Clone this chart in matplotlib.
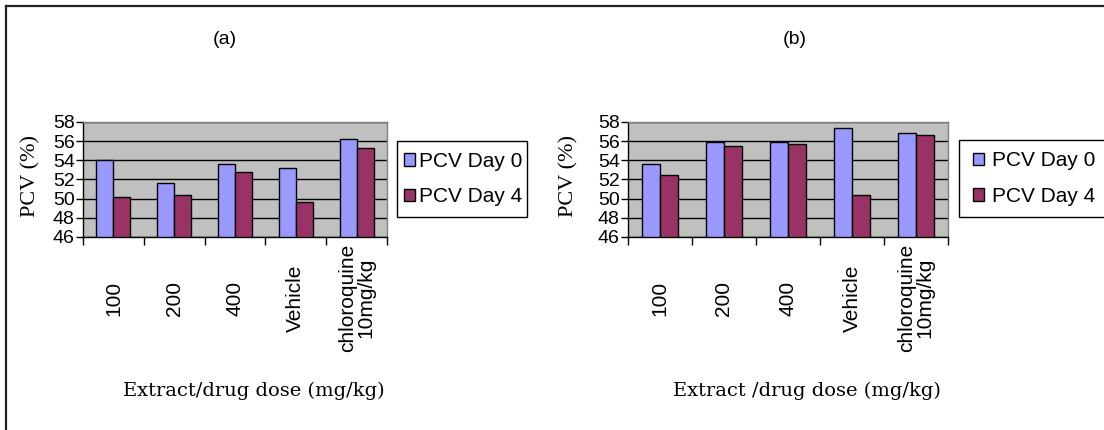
import matplotlib
matplotlib.use("Agg")
import matplotlib.pyplot as plt
from matplotlib.lines import Line2D
from matplotlib.patches import Rectangle
from matplotlib.ticker import FixedLocator
import numpy as np

# data
categories = ["100", "200", "400", "Vehicle", "chloroquine\n10mg/kg"]
day0_a = [54.0, 51.6, 53.6, 53.2, 56.2]
day4_a = [50.2, 50.4, 52.8, 49.7, 55.3]
day0_b = [53.6, 55.9, 55.9, 57.4, 56.9]
day4_b = [52.5, 55.5, 55.7, 50.4, 56.6]
panel_titles = ["(a)", "(b)"]
xlabels = ["Extract/drug dose (mg/kg)", "Extract /drug dose (mg/kg)"]
series_names = ["PCV Day 0", "PCV Day 4"]

BLUE = "#9999ff"
MAROON = "#993366"
W, H = 1104, 430

fig = plt.figure(figsize=(W / 100, H / 100), dpi=100)


def px(x0, y0, x1, y1):
    # pixel box -> figure fraction rect
    return [x0 / W, 1 - y1 / H, (x1 - x0) / W, (y1 - y0) / H]


def panel(rect, d0, d4, title, xlab, title_x, xlab_x, ylab_x, leg_box, leg_x, leg_gap):
    ax = fig.add_axes(px(*rect))
    ax.set_facecolor("#c0c0c0")
    x = np.arange(len(categories))
    w = 0.28
    ax.bar(x - w / 2, np.array(d0) - 46, w, bottom=46, color=BLUE,
           edgecolor="black", linewidth=1, zorder=3, label=series_names[0])
    ax.bar(x + w / 2, np.array(d4) - 46, w, bottom=46, color=MAROON,
           edgecolor="black", linewidth=1, zorder=3, label=series_names[1])
    ax.set_ylim(46, 58)
    ax.set_xlim(-0.5, len(categories) - 0.5)
    ax.set_yticks(np.arange(46, 59, 2))
    ax.yaxis.grid(True, color="black", linewidth=1, zorder=1)
    ax.set_axisbelow(True)
    ax.tick_params(axis="y", direction="out", length=5, width=1,
                   labelsize=14, pad=1)
    for t in ax.get_yticklabels():
        t.set_fontfamily("Liberation Sans")

    ax.set_xticks(x)
    ax.set_xticklabels(categories, rotation=90, va="center", ha="center",
                       fontsize=15, fontfamily="Liberation Sans",
                       linespacing=0.95)
    ax.tick_params(axis="x", which="major", length=0, pad=44)
    ax.xaxis.set_minor_locator(FixedLocator(np.arange(-0.5, len(categories), 1.0)))
    ax.tick_params(axis="x", which="minor", direction="out", length=6, width=1)

    for s in ["left", "bottom"]:
        ax.spines[s].set_color("black")
        ax.spines[s].set_linewidth(1)
    for s in ["top", "right"]:
        ax.spines[s].set_color("#808080")
        ax.spines[s].set_linewidth(1)

    fig.text(title_x / W, 1 - 40 / H, title, ha="center", va="center",
             fontsize=14, fontfamily="Liberation Sans")
    fig.text(xlab_x / W, 1 - 391 / H, xlab, ha="center", va="center",
             fontsize=14, fontfamily="DejaVu Serif")
    fig.text(ylab_x / W, 1 - 176 / H, "PCV (%)", ha="center", va="center",
             rotation=90, fontsize=16, fontfamily="Liberation Serif")

    # legend box drawn by hand, entries placed inside it
    bx0, by0, bx1, by1 = leg_box
    fig.add_artist(Rectangle((bx0 / W, 1 - by1 / H), (bx1 - bx0) / W, (by1 - by0) / H,
                             transform=fig.transFigure, facecolor="white",
                             edgecolor="black", linewidth=1, zorder=4))
    handles, labels = ax.get_legend_handles_labels()
    leg = fig.legend(handles, labels, loc="center left",
                     bbox_to_anchor=(leg_x / W, 1 - (by0 + by1) / 2 / H),
                     bbox_transform=fig.transFigure, frameon=False,
                     borderaxespad=0, borderpad=0,
                     prop={"family": "Liberation Sans", "size": 15},
                     handlelength=0.55, handleheight=0.55, handletextpad=leg_gap,
                     labelspacing=0.8)
    leg.set_zorder(6)
    return ax


panel((83, 122, 387, 237), day0_a, day4_a, panel_titles[0], xlabels[0],
      225, 254, 31, (397, 141, 527, 217), 404, 0.15)
panel((628, 122, 948, 237), day0_b, day4_b, panel_titles[1], xlabels[1],
      795, 807, 569, (959, 140, 1110, 217), 973, 0.35)

# outer frame (top and left edges visible)
fig.add_artist(Line2D([6 / W, 1], [1 - 6 / H, 1 - 6 / H], color="#222222",
                      linewidth=1.6, transform=fig.transFigure))
fig.add_artist(Line2D([6 / W, 6 / W], [1 - 6 / H, 0], color="#222222",
                      linewidth=1.6, transform=fig.transFigure))

fig.savefig("out.png", dpi=100)
